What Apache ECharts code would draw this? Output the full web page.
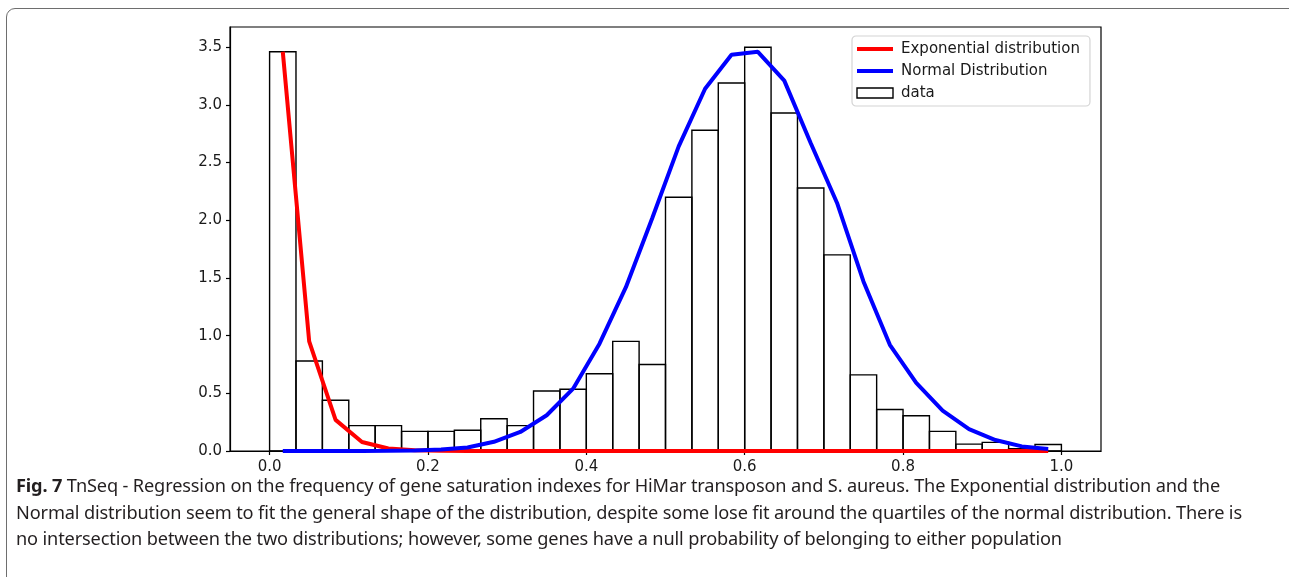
<!DOCTYPE html>
<html lang="en">
<head>
    <meta charset="UTF-8">
    <title>Fig. 7 TnSeq saturation histogram</title>
    <script src="https://cdn.jsdelivr.net/npm/echarts@6/dist/echarts.min.js"></script>
    <style>
        html, body { margin: 0; padding: 0; background: #fff; }
        #frame {
            position: absolute; left: 6px; top: 8px; width: 1320px; height: 620px;
            border: 1.5px solid #6e6e6e; border-radius: 9px;
        }
        #chart { position: absolute; left: 0; top: 0; width: 1289px; height: 577px; }
        #caption {
            position: absolute; left: 16px; top: 472px; width: 1265px;
            font-family: "Noto Sans", sans-serif; font-size: 18.2px; line-height: 26.5px;
            letter-spacing: -0.15px;
            color: #231f20; white-space: nowrap;
        }
        #caption b { font-weight: 700; }
    </style>
</head>
<body>
<div id="frame"></div>
<div id="chart"></div>
<div id="caption">
    <b>Fig. 7</b> TnSeq - Regression on the frequency of gene saturation indexes for HiMar transposon and S. aureus. The Exponential distribution and the<br>
    Normal distribution seem to fit the general shape of the distribution, despite some lose fit around the quartiles of the normal distribution. There is<br>
    no intersection between the two distributions; however, some genes have a null probability of belonging to either population
</div>

<script>
    // 30 bins over the saturation index range [0, 1]
    const binCount = 30;
    const binLow = 0;
    const binHigh = 1;

    // histogram heights (density), one per bin
    const histValues = [
        3.46, 0.78, 0.44, 0.22, 0.22, 0.17, 0.17, 0.18, 0.28, 0.22,
        0.52, 0.535, 0.67, 0.95, 0.75, 2.20, 2.78, 3.19, 3.50, 2.93,
        2.28, 1.70, 0.66, 0.36, 0.305, 0.17, 0.06, 0.075, 0.02, 0.056
    ];

    // fitted curves, read at the bin centres
    const expValues = [
        3.46, 0.95, 0.27, 0.078, 0.022, 0.006, 0.002, 0.0005, 0, 0,
        0, 0, 0, 0, 0, 0, 0, 0, 0, 0,
        0, 0, 0, 0, 0, 0, 0, 0, 0, 0
    ];
    const normValues = [
        0.001, 0.001, 0.001, 0.001, 0.002, 0.005, 0.012, 0.03, 0.08, 0.165,
        0.31, 0.54, 0.93, 1.42, 2.02, 2.64, 3.14, 3.435, 3.46, 3.21,
        2.67, 2.15, 1.47, 0.92, 0.59, 0.35, 0.19, 0.095, 0.04, 0.017
    ];

    const xTicks = [0, 0.2, 0.4, 0.6, 0.8, 1.0];
    const yTicks = [0, 0.5, 1.0, 1.5, 2.0, 2.5, 3.0, 3.5];

    const binWidth = (binHigh - binLow) / binCount;
    const histData = histValues.map((v, i) => [binLow + i * binWidth, binLow + (i + 1) * binWidth, v]);
    const centers = histValues.map((v, i) => binLow + (i + 0.5) * binWidth);
    const expData = expValues.map((v, i) => [centers[i], v]);
    const normData = normValues.map((v, i) => [centers[i], v]);

    const tickFont = { fontFamily: 'DejaVu Sans', fontSize: 15, color: '#1a1a1a' };

    const chart = echarts.init(document.getElementById('chart'));
    chart.setOption({
        animation: false,
        grid: {
            left: 230, right: 188, top: 27, bottom: 126,
            show: true, borderColor: '#000', borderWidth: 1.2, backgroundColor: 'transparent'
        },
        legend: {
            orient: 'vertical',
            left: 852, top: 36,
            padding: [4, 10, 4, 3],
            itemGap: 4,
            itemWidth: 36,
            itemHeight: 10,
            backgroundColor: '#fff',
            borderColor: '#d4d4d4',
            borderWidth: 1.2,
            borderRadius: 4,
            textStyle: { fontFamily: 'DejaVu Sans', fontSize: 15, color: '#1a1a1a', lineHeight: 18, padding: [0, 0, 0, 3] },
            data: [
                { name: 'Exponential distribution', itemStyle: { opacity: 0 }, lineStyle: { width: 4, color: '#ff0000' } },
                { name: 'Normal Distribution', itemStyle: { opacity: 0 }, lineStyle: { width: 4, color: '#0000ff' } },
                { name: 'data', icon: 'rect', itemStyle: { color: '#fff', borderColor: '#000', borderWidth: 1.4 } }
            ]
        },
        xAxis: {
            type: 'value',
            min: -0.05, max: 1.05,
            splitLine: { show: false },
            axisLine: { show: true, onZero: false, lineStyle: { color: '#000', width: 1.2 } },
            axisTick: { show: true, length: 4, customValues: xTicks, lineStyle: { color: '#000', width: 1.2 } },
            axisLabel: { ...tickFont, margin: 9, customValues: xTicks, formatter: v => v.toFixed(1) }
        },
        yAxis: {
            type: 'value',
            min: 0, max: 3.675,
            splitLine: { show: false },
            axisLine: { show: true, onZero: false, lineStyle: { color: '#000', width: 1.2 } },
            axisTick: { show: true, length: 4, customValues: yTicks, lineStyle: { color: '#000', width: 1.2 } },
            axisLabel: { ...tickFont, margin: 8, customValues: yTicks, formatter: v => v.toFixed(1) }
        },
        series: [
            {
                name: 'data',
                type: 'custom',
                itemStyle: { color: '#fff', borderColor: '#000', borderWidth: 1.4 },
                encode: { x: [0, 1], y: 2 },
                data: histData,
                z: 1,
                renderItem(params, api) {
                    const topLeft = api.coord([api.value(0), api.value(2)]);
                    const bottomRight = api.coord([api.value(1), 0]);
                    return {
                        type: 'rect',
                        shape: {
                            x: topLeft[0], y: topLeft[1],
                            width: bottomRight[0] - topLeft[0],
                            height: bottomRight[1] - topLeft[1]
                        },
                        style: { fill: 'none', stroke: '#000', lineWidth: 1.4 }
                    };
                }
            },
            {
                name: 'Exponential distribution',
                type: 'line',
                data: expData,
                symbol: 'none',
                clip: false,
                z: 3,
                lineStyle: { color: '#ff0000', width: 4 },
                itemStyle: { color: '#ff0000' }
            },
            {
                name: 'Normal Distribution',
                type: 'line',
                data: normData,
                symbol: 'none',
                clip: false,
                z: 4,
                lineStyle: { color: '#0000ff', width: 4 },
                itemStyle: { color: '#0000ff' }
            }
        ]
    });
</script>
</body>
</html>
